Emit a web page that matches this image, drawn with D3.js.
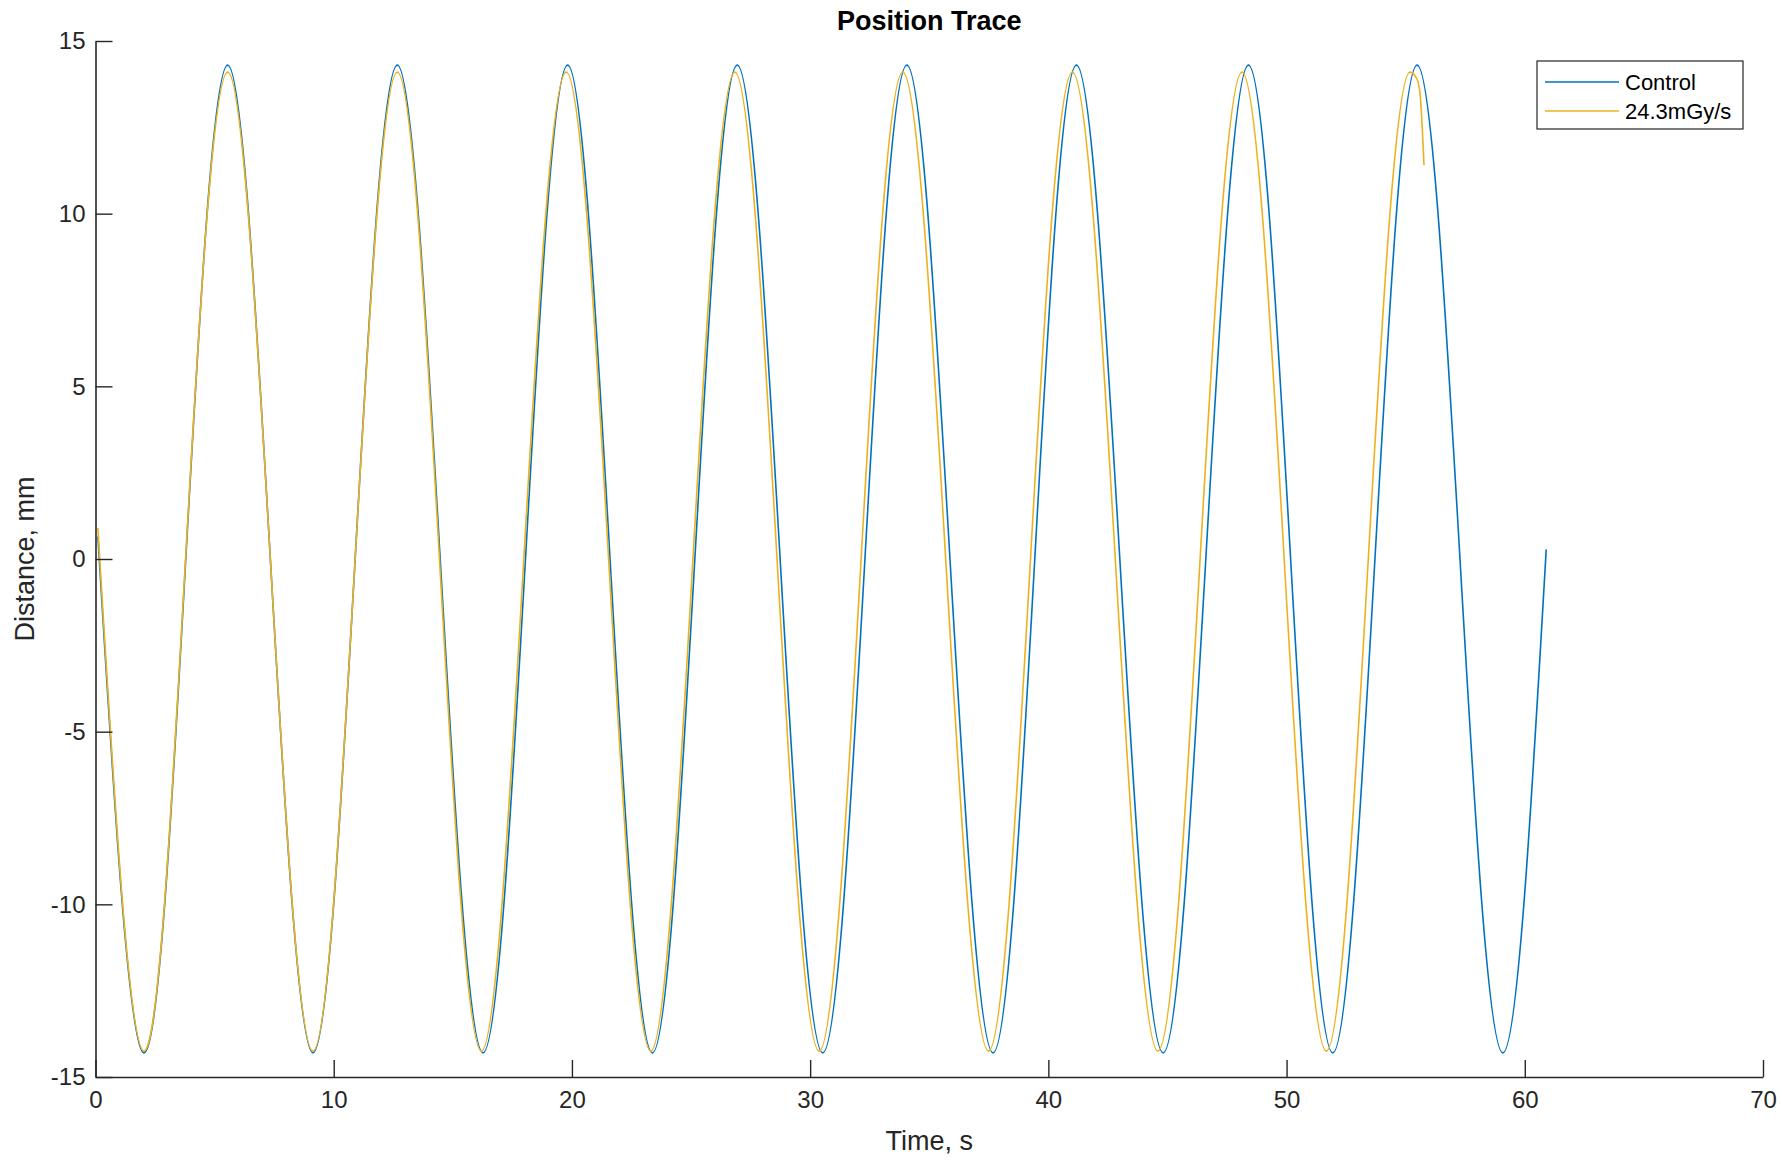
<!DOCTYPE html>
<html>
<head>
<meta charset="utf-8">
<title>Position Trace</title>
<script src="https://cdn.jsdelivr.net/npm/d3@7"></script>
<style>
    body { margin: 0; background: #fff; }
    svg { display: block; }
</style>
</head>
<body>
<div id="chart"></div>
<script>
// Position trace: control run vs 24.3mGy/s run, distance in mm over time in s

// Start, troughs, zero crossings, peaks and end of each trace
var controlTime = [0.1, 2.02, 3.79, 5.55, 7.34, 9.13, 10.90, 12.67, 14.47, 16.27, 18.05, 19.82,
    21.60, 23.38, 25.16, 26.94, 28.74, 30.53, 32.30, 34.06, 35.87, 37.68, 39.43, 41.18,
    43.00, 44.82, 46.61, 48.40, 50.17, 51.94, 53.71, 55.48, 57.28, 59.08, 60.9];
var controlDist = [0.65, -14.3, 0, 14.3, 0, -14.3, 0, 14.3, 0, -14.3, 0, 14.3,
    0, -14.3, 0, 14.3, 0, -14.3, 0, 14.3, 0, -14.3, 0, 14.3,
    0, -14.3, 0, 14.3, 0, -14.3, 0, 14.3, 0, -14.3, 0.28];

var doseTime = [0.1, 2.02, 3.78, 5.55, 7.34, 9.13, 10.90, 12.67, 14.44, 16.20, 17.98, 19.76,
    21.54, 23.31, 25.08, 26.84, 28.61, 30.38, 32.14, 33.89, 35.69, 37.49, 39.25, 41.01,
    42.81, 44.60, 46.37, 48.13, 49.90, 51.67, 53.43, 55.18, 55.47, 55.60, 55.77];
var doseDist = [0.9, -14.25, 0, 14.1, 0, -14.25, 0, 14.1, 0, -14.25, 0, 14.1,
    0, -14.25, 0, 14.1, 0, -14.25, 0, 14.1, 0, -14.25, 0, 14.1,
    0, -14.25, 0, 14.1, 0, -14.25, 0, 14.1, 13.9, 13.5, 11.4];

var seriesNames = ["Control", "24.3mGy/s"];
var seriesColors = ["#0072BD", "#EDB120"];
var xTicks = [0, 10, 20, 30, 40, 50, 60, 70];
var yTicks = [-15, -10, -5, 0, 5, 10, 15];

// Size of the figure and the axes box
var width = 1782,
    height = 1160,
    boxLeft = 95.5,
    boxRight = 1763,
    boxTop = 41,
    boxBottom = 1077,
    axisColor = "#262626";

var x = d3.scaleLinear().domain([0, 70]).range([boxLeft, boxRight]);
var y = d3.scaleLinear().domain([-15, 15]).range([boxBottom, boxTop]);

var svg = d3.select("#chart")
    .append("svg")
    .attr("width", width)
    .attr("height", height)
    .style("font-family", "'Liberation Sans', Arial, sans-serif");

svg.append("rect")
    .attr("width", width)
    .attr("height", height)
    .attr("fill", "#fff");

// Build point lists for the two traces
var traceTimes = [controlTime, doseTime],
    traceDists = [controlDist, doseDist];

var smoothLine = d3.line()
    .x(function(d) { return x(d[0]); })
    .y(function(d) { return y(d[1]); })
    .curve(d3.curveNatural);

// monotone piece for the end, so the spline does not bulge past the last turn
var tailLine = d3.line()
    .x(function(d) { return x(d[0]); })
    .y(function(d) { return y(d[1]); })
    .curve(d3.curveMonotoneX);

// Control first, the dose trace drawn on top of it
for (let i = 0; i < traceTimes.length; i++) {
    let pts = traceTimes[i].map(function(t, j) { return [t, traceDists[i][j]]; });
    let cut = traceDists[i].lastIndexOf(0);
    let g = svg.append("g")
        .attr("fill", "none")
        .attr("stroke", seriesColors[i])
        .attr("stroke-width", 1.6)
        .attr("stroke-linejoin", "round");
    g.append("path").attr("d", smoothLine(pts.slice(0, cut + 1)));
    g.append("path").attr("d", tailLine(pts.slice(cut)));
}

// Axes, ticks point inward like in MATLAB; plain hyphen for negatives
var plainFormat = function(d) { return String(d); };

var xAxis = svg.append("g")
    .attr("transform", "translate(0," + boxBottom + ")")
    .call(d3.axisBottom(x).tickValues(xTicks).tickFormat(plainFormat)
        .tickSizeInner(-17).tickSizeOuter(0).tickPadding(14));

var yAxis = svg.append("g")
    .attr("transform", "translate(" + boxLeft + ",0)")
    .call(d3.axisLeft(y).tickValues(yTicks).tickFormat(plainFormat)
        .tickSizeInner(-17).tickSizeOuter(0).tickPadding(10));

[xAxis, yAxis].forEach(function(ax) {
    ax.select(".domain").attr("stroke", axisColor).attr("stroke-width", 1.6);
    ax.selectAll(".tick line").attr("stroke", axisColor).attr("stroke-width", 1.4);
    ax.selectAll(".tick text")
        .attr("fill", axisColor)
        .style("font-size", "24px")
        .style("font-family", "'Liberation Sans', Arial, sans-serif");
});

// Title and axis labels
svg.append("text")
    .attr("x", (boxLeft + boxRight) / 2)
    .attr("y", 30)
    .attr("text-anchor", "middle")
    .style("font-size", "27px")
    .style("font-weight", "bold")
    .attr("fill", "#000")
    .text("Position Trace");

svg.append("text")
    .attr("x", (boxLeft + boxRight) / 2)
    .attr("y", 1150)
    .attr("text-anchor", "middle")
    .style("font-size", "27px")
    .attr("fill", axisColor)
    .text("Time, s");

svg.append("text")
    .attr("transform", "translate(34," + (boxTop + boxBottom) / 2 + ") rotate(-90)")
    .attr("text-anchor", "middle")
    .style("font-size", "27px")
    .attr("fill", axisColor)
    .text("Distance, mm");

// Legend box in the top right corner
var legend = svg.append("g");

legend.append("rect")
    .attr("x", 1537)
    .attr("y", 61)
    .attr("width", 206)
    .attr("height", 68)
    .attr("fill", "#fff")
    .attr("stroke", axisColor)
    .attr("stroke-width", 1.2);

seriesNames.forEach(function(name, i) {
    var rowY = 82 + i * 29;
    legend.append("line")
        .attr("x1", 1545)
        .attr("x2", 1619)
        .attr("y1", rowY)
        .attr("y2", rowY)
        .attr("stroke", seriesColors[i])
        .attr("stroke-width", 1.6);
    legend.append("text")
        .attr("x", 1625)
        .attr("y", rowY + 8)
        .style("font-size", "22px")
        .attr("fill", "#000")
        .text(name);
});
</script>
</body>
</html>
